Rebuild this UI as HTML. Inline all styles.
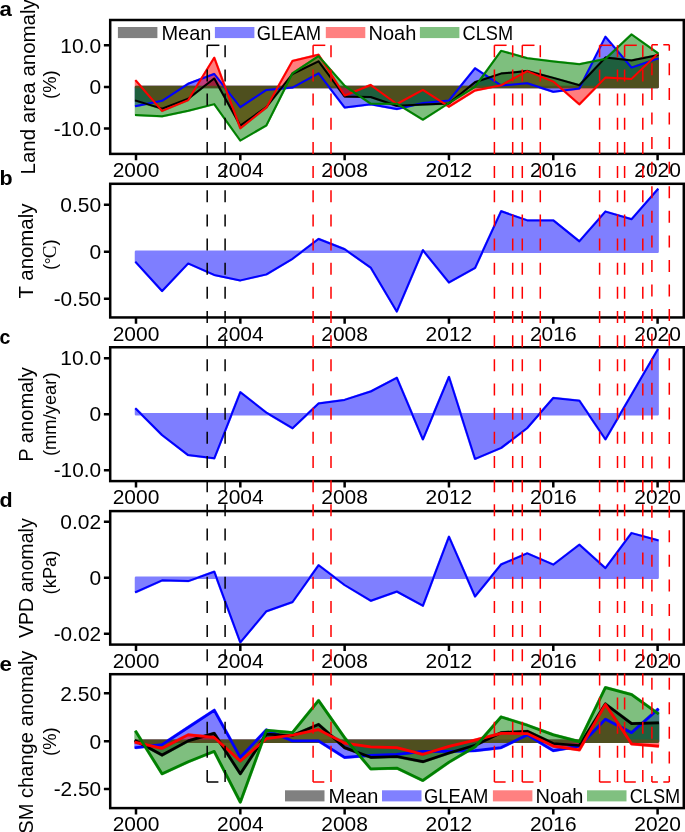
<!DOCTYPE html>
<html lang="en">
<head>
<meta charset="utf-8">
<title>Anomaly time series 2000-2020</title>
<style>
html,body{margin:0;padding:0;background:#fff;}
body{width:685px;height:832px;overflow:hidden;font-family:"Liberation Sans",sans-serif;}
svg{display:block;will-change:transform;}
</style>
</head>
<body>
<svg width="685" height="832" viewBox="0 0 685 832" font-family="'Liberation Sans', sans-serif" font-size="19.35" fill="#000">
<rect width="685" height="832" fill="#fff"/>
<defs>
<clipPath id="clipa"><rect x="110.2" y="20.0" width="573.60" height="133.90"/></clipPath>
<clipPath id="clipb"><rect x="110.2" y="183.8" width="573.60" height="133.65"/></clipPath>
<clipPath id="clipc"><rect x="110.2" y="347.25" width="573.60" height="133.85"/></clipPath>
<clipPath id="clipd"><rect x="110.2" y="511.1" width="573.60" height="133.50"/></clipPath>
<clipPath id="clipe"><rect x="110.2" y="674.2" width="573.60" height="133.90"/></clipPath>
</defs>
<g id="panel-a">
<g clip-path="url(#clipa)">
<path d="M136.00,86.95 L136.00,106.00 L162.08,100.80 L188.16,83.80 L214.24,74.00 L240.32,107.10 L266.40,89.90 L292.48,87.60 L318.56,73.30 L344.64,107.40 L370.72,104.20 L396.80,109.00 L422.88,103.10 L448.96,100.50 L475.04,68.30 L501.12,85.50 L527.20,83.20 L553.28,91.80 L579.36,88.50 L605.44,36.90 L631.52,67.60 L657.60,58.70 L657.60,86.95 Z" fill="#0000ff" stroke="#0000ff" stroke-width="2.5" stroke-linejoin="round" opacity="0.5"/>
<path d="M136.00,86.95 L136.00,100.70 L162.08,108.60 L188.16,98.80 L214.24,78.50 L240.32,125.60 L266.40,107.00 L292.48,74.00 L318.56,61.40 L344.64,96.50 L370.72,97.00 L396.80,105.70 L422.88,104.40 L448.96,103.40 L475.04,82.20 L501.12,73.60 L527.20,71.00 L553.28,77.90 L579.36,85.20 L605.44,57.60 L631.52,60.40 L657.60,55.10 L657.60,86.95 Z" fill="#000000" stroke="#000000" stroke-width="2.5" stroke-linejoin="round" opacity="0.5"/>
<path d="M136.00,86.95 L136.00,80.90 L162.08,110.90 L188.16,100.10 L214.24,57.80 L240.32,128.20 L266.40,107.40 L292.48,61.00 L318.56,54.80 L344.64,95.50 L370.72,85.00 L396.80,104.00 L422.88,89.90 L448.96,106.70 L475.04,90.40 L501.12,85.30 L527.20,71.10 L553.28,81.60 L579.36,104.30 L605.44,77.60 L631.52,78.90 L657.60,53.80 L657.60,86.95 Z" fill="#ff0000" stroke="#ff0000" stroke-width="2.5" stroke-linejoin="round" opacity="0.5"/>
<path d="M136.00,86.95 L136.00,115.00 L162.08,116.20 L188.16,110.70 L214.24,104.10 L240.32,140.50 L266.40,125.30 L292.48,73.30 L318.56,56.20 L344.64,85.90 L370.72,103.70 L396.80,103.70 L422.88,119.60 L448.96,103.00 L475.04,86.80 L501.12,50.90 L527.20,58.20 L553.28,61.40 L579.36,64.30 L605.44,59.00 L631.52,34.50 L657.60,53.00 L657.60,86.95 Z" fill="#008000" stroke="#008000" stroke-width="2.5" stroke-linejoin="round" opacity="0.5"/>
<polyline points="136.00,106.00 162.08,100.80 188.16,83.80 214.24,74.00 240.32,107.10 266.40,89.90 292.48,87.60 318.56,73.30 344.64,107.40 370.72,104.20 396.80,109.00 422.88,103.10 448.96,100.50 475.04,68.30 501.12,85.50 527.20,83.20 553.28,91.80 579.36,88.50 605.44,36.90 631.52,67.60 657.60,58.70" fill="none" stroke="#0000ff" stroke-width="2.0" stroke-linejoin="round" stroke-linecap="square"/>
<polyline points="136.00,100.70 162.08,108.60 188.16,98.80 214.24,78.50 240.32,125.60 266.40,107.00 292.48,74.00 318.56,61.40 344.64,96.50 370.72,97.00 396.80,105.70 422.88,104.40 448.96,103.40 475.04,82.20 501.12,73.60 527.20,71.00 553.28,77.90 579.36,85.20 605.44,57.60 631.52,60.40 657.60,55.10" fill="none" stroke="#000000" stroke-width="2.0" stroke-linejoin="round" stroke-linecap="square"/>
<polyline points="136.00,80.90 162.08,110.90 188.16,100.10 214.24,57.80 240.32,128.20 266.40,107.40 292.48,61.00 318.56,54.80 344.64,95.50 370.72,85.00 396.80,104.00 422.88,89.90 448.96,106.70 475.04,90.40 501.12,85.30 527.20,71.10 553.28,81.60 579.36,104.30 605.44,77.60 631.52,78.90 657.60,53.80" fill="none" stroke="#ff0000" stroke-width="2.0" stroke-linejoin="round" stroke-linecap="square"/>
<polyline points="136.00,115.00 162.08,116.20 188.16,110.70 214.24,104.10 240.32,140.50 266.40,125.30 292.48,73.30 318.56,56.20 344.64,85.90 370.72,103.70 396.80,103.70 422.88,119.60 448.96,103.00 475.04,86.80 501.12,50.90 527.20,58.20 553.28,61.40 579.36,64.30 605.44,59.00 631.52,34.50 657.60,53.00" fill="none" stroke="#008000" stroke-width="2.0" stroke-linejoin="round" stroke-linecap="square"/>
</g>
<rect x="110.2" y="20.0" width="573.60" height="133.90" fill="none" stroke="#000" stroke-width="2.5"/>
<path d="M136.00,153.90v6.3M240.32,153.90v6.3M344.64,153.90v6.3M448.96,153.90v6.3M553.28,153.90v6.3M657.60,153.90v6.3M110.20,45.30h-6.3M110.20,86.95h-6.3M110.20,128.60h-6.3" stroke="#000" stroke-width="2.5" fill="none"/>
<text x="136.00" y="177.10" text-anchor="middle" textLength="46.66" lengthAdjust="spacingAndGlyphs">2000</text>
<text x="240.32" y="177.10" text-anchor="middle" textLength="46.66" lengthAdjust="spacingAndGlyphs">2004</text>
<text x="344.64" y="177.10" text-anchor="middle" textLength="46.66" lengthAdjust="spacingAndGlyphs">2008</text>
<text x="448.96" y="177.10" text-anchor="middle" textLength="46.66" lengthAdjust="spacingAndGlyphs">2012</text>
<text x="553.28" y="177.10" text-anchor="middle" textLength="46.66" lengthAdjust="spacingAndGlyphs">2016</text>
<text x="657.60" y="177.10" text-anchor="middle" textLength="46.66" lengthAdjust="spacingAndGlyphs">2020</text>
<text x="101.10" y="52.55" text-anchor="end" textLength="40.82" lengthAdjust="spacingAndGlyphs">10.0</text>
<text x="101.10" y="94.20" text-anchor="end" textLength="11.66" lengthAdjust="spacingAndGlyphs">0</text>
<text x="101.10" y="135.85" text-anchor="end" textLength="47.43" lengthAdjust="spacingAndGlyphs">-10.0</text>
<text transform="translate(35.20,86.85) rotate(-90)" text-anchor="middle" textLength="175.15" lengthAdjust="spacingAndGlyphs">Land area anomaly</text>
<text transform="translate(56.40,84.70) rotate(-90)" text-anchor="middle" font-size="18.33">(%)</text>
<text x="-0.40" y="16.00" text-anchor="start" textLength="12.37" lengthAdjust="spacingAndGlyphs" font-weight="bold">a</text>
</g>
<g id="panel-b">
<g clip-path="url(#clipb)">
<path d="M136.00,251.80 L136.00,262.30 L162.08,291.00 L188.16,263.40 L214.24,274.90 L240.32,280.40 L266.40,274.40 L292.48,258.80 L318.56,239.00 L344.64,249.20 L370.72,267.60 L396.80,311.40 L422.88,250.20 L448.96,282.40 L475.04,267.90 L501.12,211.30 L527.20,220.40 L553.28,220.40 L579.36,241.40 L605.44,211.60 L631.52,219.30 L657.60,189.50 L657.60,251.80 Z" fill="#0000ff" stroke="#0000ff" stroke-width="2.5" stroke-linejoin="round" opacity="0.5"/>
<polyline points="136.00,262.30 162.08,291.00 188.16,263.40 214.24,274.90 240.32,280.40 266.40,274.40 292.48,258.80 318.56,239.00 344.64,249.20 370.72,267.60 396.80,311.40 422.88,250.20 448.96,282.40 475.04,267.90 501.12,211.30 527.20,220.40 553.28,220.40 579.36,241.40 605.44,211.60 631.52,219.30 657.60,189.50" fill="none" stroke="#0000ff" stroke-width="2.0" stroke-linejoin="round" stroke-linecap="square"/>
</g>
<rect x="110.2" y="183.8" width="573.60" height="133.65" fill="none" stroke="#000" stroke-width="2.5"/>
<path d="M136.00,317.45v6.3M240.32,317.45v6.3M344.64,317.45v6.3M448.96,317.45v6.3M553.28,317.45v6.3M657.60,317.45v6.3M110.20,204.80h-6.3M110.20,251.80h-6.3M110.20,298.80h-6.3" stroke="#000" stroke-width="2.5" fill="none"/>
<text x="136.00" y="340.65" text-anchor="middle" textLength="46.66" lengthAdjust="spacingAndGlyphs">2000</text>
<text x="240.32" y="340.65" text-anchor="middle" textLength="46.66" lengthAdjust="spacingAndGlyphs">2004</text>
<text x="344.64" y="340.65" text-anchor="middle" textLength="46.66" lengthAdjust="spacingAndGlyphs">2008</text>
<text x="448.96" y="340.65" text-anchor="middle" textLength="46.66" lengthAdjust="spacingAndGlyphs">2012</text>
<text x="553.28" y="340.65" text-anchor="middle" textLength="46.66" lengthAdjust="spacingAndGlyphs">2016</text>
<text x="657.60" y="340.65" text-anchor="middle" textLength="46.66" lengthAdjust="spacingAndGlyphs">2020</text>
<text x="101.10" y="212.05" text-anchor="end" textLength="40.82" lengthAdjust="spacingAndGlyphs">0.50</text>
<text x="101.10" y="259.05" text-anchor="end" textLength="11.66" lengthAdjust="spacingAndGlyphs">0</text>
<text x="101.10" y="306.05" text-anchor="end" textLength="47.43" lengthAdjust="spacingAndGlyphs">-0.50</text>
<text transform="translate(33.30,251.02) rotate(-90)" text-anchor="middle" textLength="94.73" lengthAdjust="spacingAndGlyphs">T anomaly</text>
<text transform="translate(56.40,254.75) rotate(-90)" text-anchor="middle" font-size="18.33">(<tspan font-family="'Liberation Serif', serif" font-size="16">°</tspan><tspan font-family="'Liberation Serif', serif" font-size="19" dx="-0.8">C</tspan>)</text>
<text x="-0.40" y="184.80" text-anchor="start" textLength="13.12" lengthAdjust="spacingAndGlyphs" font-weight="bold">b</text>
</g>
<g id="panel-c">
<g clip-path="url(#clipc)">
<path d="M136.00,414.20 L136.00,408.90 L162.08,435.00 L188.16,455.10 L214.24,458.30 L240.32,392.30 L266.40,412.70 L292.48,428.20 L318.56,403.60 L344.64,399.90 L370.72,391.50 L396.80,377.80 L422.88,439.30 L448.96,377.00 L475.04,458.80 L501.12,447.90 L527.20,428.00 L553.28,398.00 L579.36,400.80 L605.44,439.30 L631.52,394.70 L657.60,349.90 L657.60,414.20 Z" fill="#0000ff" stroke="#0000ff" stroke-width="2.5" stroke-linejoin="round" opacity="0.5"/>
<polyline points="136.00,408.90 162.08,435.00 188.16,455.10 214.24,458.30 240.32,392.30 266.40,412.70 292.48,428.20 318.56,403.60 344.64,399.90 370.72,391.50 396.80,377.80 422.88,439.30 448.96,377.00 475.04,458.80 501.12,447.90 527.20,428.00 553.28,398.00 579.36,400.80 605.44,439.30 631.52,394.70 657.60,349.90" fill="none" stroke="#0000ff" stroke-width="2.0" stroke-linejoin="round" stroke-linecap="square"/>
</g>
<rect x="110.2" y="347.25" width="573.60" height="133.85" fill="none" stroke="#000" stroke-width="2.5"/>
<path d="M136.00,481.10v6.3M240.32,481.10v6.3M344.64,481.10v6.3M448.96,481.10v6.3M553.28,481.10v6.3M657.60,481.10v6.3M110.20,358.15h-6.3M110.20,414.15h-6.3M110.20,470.15h-6.3" stroke="#000" stroke-width="2.5" fill="none"/>
<text x="136.00" y="504.30" text-anchor="middle" textLength="46.66" lengthAdjust="spacingAndGlyphs">2000</text>
<text x="240.32" y="504.30" text-anchor="middle" textLength="46.66" lengthAdjust="spacingAndGlyphs">2004</text>
<text x="344.64" y="504.30" text-anchor="middle" textLength="46.66" lengthAdjust="spacingAndGlyphs">2008</text>
<text x="448.96" y="504.30" text-anchor="middle" textLength="46.66" lengthAdjust="spacingAndGlyphs">2012</text>
<text x="553.28" y="504.30" text-anchor="middle" textLength="46.66" lengthAdjust="spacingAndGlyphs">2016</text>
<text x="657.60" y="504.30" text-anchor="middle" textLength="46.66" lengthAdjust="spacingAndGlyphs">2020</text>
<text x="101.10" y="365.40" text-anchor="end" textLength="40.82" lengthAdjust="spacingAndGlyphs">10.0</text>
<text x="101.10" y="421.40" text-anchor="end" textLength="11.66" lengthAdjust="spacingAndGlyphs">0</text>
<text x="101.10" y="477.40" text-anchor="end" textLength="47.43" lengthAdjust="spacingAndGlyphs">-10.0</text>
<text transform="translate(33.30,414.48) rotate(-90)" text-anchor="middle" textLength="94.59" lengthAdjust="spacingAndGlyphs">P anomaly</text>
<text transform="translate(56.40,414.25) rotate(-90)" text-anchor="middle" font-size="18.33">(mm/year)</text>
<text x="-0.40" y="343.80" text-anchor="start" textLength="10.87" lengthAdjust="spacingAndGlyphs" font-weight="bold">c</text>
</g>
<g id="panel-d">
<g clip-path="url(#clipd)">
<path d="M136.00,577.70 L136.00,592.00 L162.08,580.30 L188.16,581.10 L214.24,571.70 L240.32,642.30 L266.40,611.20 L292.48,602.00 L318.56,565.30 L344.64,585.00 L370.72,600.70 L396.80,591.50 L422.88,605.70 L448.96,536.80 L475.04,596.40 L501.12,564.50 L527.20,553.40 L553.28,564.70 L579.36,544.80 L605.44,568.20 L631.52,533.10 L657.60,540.30 L657.60,577.70 Z" fill="#0000ff" stroke="#0000ff" stroke-width="2.5" stroke-linejoin="round" opacity="0.5"/>
<polyline points="136.00,592.00 162.08,580.30 188.16,581.10 214.24,571.70 240.32,642.30 266.40,611.20 292.48,602.00 318.56,565.30 344.64,585.00 370.72,600.70 396.80,591.50 422.88,605.70 448.96,536.80 475.04,596.40 501.12,564.50 527.20,553.40 553.28,564.70 579.36,544.80 605.44,568.20 631.52,533.10 657.60,540.30" fill="none" stroke="#0000ff" stroke-width="2.0" stroke-linejoin="round" stroke-linecap="square"/>
</g>
<rect x="110.2" y="511.1" width="573.60" height="133.50" fill="none" stroke="#000" stroke-width="2.5"/>
<path d="M136.00,644.60v6.3M240.32,644.60v6.3M344.64,644.60v6.3M448.96,644.60v6.3M553.28,644.60v6.3M657.60,644.60v6.3M110.20,521.75h-6.3M110.20,577.75h-6.3M110.20,633.75h-6.3" stroke="#000" stroke-width="2.5" fill="none"/>
<text x="136.00" y="667.80" text-anchor="middle" textLength="46.66" lengthAdjust="spacingAndGlyphs">2000</text>
<text x="240.32" y="667.80" text-anchor="middle" textLength="46.66" lengthAdjust="spacingAndGlyphs">2004</text>
<text x="344.64" y="667.80" text-anchor="middle" textLength="46.66" lengthAdjust="spacingAndGlyphs">2008</text>
<text x="448.96" y="667.80" text-anchor="middle" textLength="46.66" lengthAdjust="spacingAndGlyphs">2012</text>
<text x="553.28" y="667.80" text-anchor="middle" textLength="46.66" lengthAdjust="spacingAndGlyphs">2016</text>
<text x="657.60" y="667.80" text-anchor="middle" textLength="46.66" lengthAdjust="spacingAndGlyphs">2020</text>
<text x="101.10" y="529.00" text-anchor="end" textLength="40.82" lengthAdjust="spacingAndGlyphs">0.02</text>
<text x="101.10" y="585.00" text-anchor="end" textLength="11.66" lengthAdjust="spacingAndGlyphs">0</text>
<text x="101.10" y="641.00" text-anchor="end" textLength="47.43" lengthAdjust="spacingAndGlyphs">-0.02</text>
<text transform="translate(33.40,578.20) rotate(-90)" text-anchor="middle" textLength="119.75" lengthAdjust="spacingAndGlyphs">VPD anomaly</text>
<text transform="translate(56.40,572.50) rotate(-90)" text-anchor="middle" font-size="18.33">(kPa)</text>
<text x="-0.40" y="506.80" text-anchor="start" textLength="13.12" lengthAdjust="spacingAndGlyphs" font-weight="bold">d</text>
</g>
<g id="panel-e">
<g clip-path="url(#clipe)">
<path d="M136.00,741.25 L136.00,747.60 L162.08,744.60 L188.16,727.50 L214.24,710.30 L240.32,757.30 L266.40,730.00 L292.48,740.90 L318.56,740.90 L344.64,757.30 L370.72,755.40 L396.80,754.30 L422.88,751.30 L448.96,751.30 L475.04,750.60 L501.12,747.60 L527.20,734.90 L553.28,750.60 L579.36,746.10 L605.44,719.30 L631.52,732.70 L657.60,709.60 L657.60,741.25 Z" fill="#0000ff" stroke="#0000ff" stroke-width="3.33" stroke-linejoin="round" opacity="0.5"/>
<path d="M136.00,741.25 L136.00,740.90 L162.08,755.00 L188.16,740.90 L214.24,733.40 L240.32,773.70 L266.40,734.20 L292.48,735.60 L318.56,724.50 L344.64,747.60 L370.72,757.30 L396.80,756.50 L422.88,761.70 L448.96,753.00 L475.04,745.30 L501.12,732.70 L527.20,731.30 L553.28,743.50 L579.36,745.50 L605.44,704.00 L631.52,723.70 L657.60,723.00 L657.60,741.25 Z" fill="#000000" stroke="#000000" stroke-width="3.33" stroke-linejoin="round" opacity="0.5"/>
<path d="M136.00,741.25 L136.00,742.40 L162.08,748.30 L188.16,734.90 L214.24,737.40 L240.32,761.00 L266.40,738.60 L292.48,735.20 L318.56,729.70 L344.64,743.10 L370.72,746.80 L396.80,747.60 L422.88,754.30 L448.96,746.40 L475.04,740.10 L501.12,733.40 L527.20,733.60 L553.28,746.10 L579.36,749.80 L605.44,704.40 L631.52,743.80 L657.60,746.10 L657.60,741.25 Z" fill="#ff0000" stroke="#ff0000" stroke-width="3.33" stroke-linejoin="round" opacity="0.5"/>
<path d="M136.00,741.25 L136.00,731.90 L162.08,773.70 L188.16,761.70 L214.24,751.30 L240.32,802.00 L266.40,730.40 L292.48,732.70 L318.56,700.60 L344.64,737.90 L370.72,768.80 L396.80,768.10 L422.88,780.40 L448.96,762.10 L475.04,746.80 L501.12,717.00 L527.20,725.20 L553.28,734.90 L579.36,741.60 L605.44,687.70 L631.52,694.70 L657.60,713.30 L657.60,741.25 Z" fill="#008000" stroke="#008000" stroke-width="3.33" stroke-linejoin="round" opacity="0.5"/>
<polyline points="136.00,747.60 162.08,744.60 188.16,727.50 214.24,710.30 240.32,757.30 266.40,730.00 292.48,740.90 318.56,740.90 344.64,757.30 370.72,755.40 396.80,754.30 422.88,751.30 448.96,751.30 475.04,750.60 501.12,747.60 527.20,734.90 553.28,750.60 579.36,746.10 605.44,719.30 631.52,732.70 657.60,709.60" fill="none" stroke="#0000ff" stroke-width="2.75" stroke-linejoin="round" stroke-linecap="square"/>
<polyline points="136.00,740.90 162.08,755.00 188.16,740.90 214.24,733.40 240.32,773.70 266.40,734.20 292.48,735.60 318.56,724.50 344.64,747.60 370.72,757.30 396.80,756.50 422.88,761.70 448.96,753.00 475.04,745.30 501.12,732.70 527.20,731.30 553.28,743.50 579.36,745.50 605.44,704.00 631.52,723.70 657.60,723.00" fill="none" stroke="#000000" stroke-width="2.75" stroke-linejoin="round" stroke-linecap="square"/>
<polyline points="136.00,742.40 162.08,748.30 188.16,734.90 214.24,737.40 240.32,761.00 266.40,738.60 292.48,735.20 318.56,729.70 344.64,743.10 370.72,746.80 396.80,747.60 422.88,754.30 448.96,746.40 475.04,740.10 501.12,733.40 527.20,733.60 553.28,746.10 579.36,749.80 605.44,704.40 631.52,743.80 657.60,746.10" fill="none" stroke="#ff0000" stroke-width="2.75" stroke-linejoin="round" stroke-linecap="square"/>
<polyline points="136.00,731.90 162.08,773.70 188.16,761.70 214.24,751.30 240.32,802.00 266.40,730.40 292.48,732.70 318.56,700.60 344.64,737.90 370.72,768.80 396.80,768.10 422.88,780.40 448.96,762.10 475.04,746.80 501.12,717.00 527.20,725.20 553.28,734.90 579.36,741.60 605.44,687.70 631.52,694.70 657.60,713.30" fill="none" stroke="#008000" stroke-width="2.75" stroke-linejoin="round" stroke-linecap="square"/>
</g>
<rect x="110.2" y="674.2" width="573.60" height="133.90" fill="none" stroke="#000" stroke-width="2.5"/>
<path d="M136.00,808.10v6.3M240.32,808.10v6.3M344.64,808.10v6.3M448.96,808.10v6.3M553.28,808.10v6.3M657.60,808.10v6.3M110.20,693.25h-6.3M110.20,741.25h-6.3M110.20,789.10h-6.3" stroke="#000" stroke-width="2.5" fill="none"/>
<text x="136.00" y="831.30" text-anchor="middle" textLength="46.66" lengthAdjust="spacingAndGlyphs">2000</text>
<text x="240.32" y="831.30" text-anchor="middle" textLength="46.66" lengthAdjust="spacingAndGlyphs">2004</text>
<text x="344.64" y="831.30" text-anchor="middle" textLength="46.66" lengthAdjust="spacingAndGlyphs">2008</text>
<text x="448.96" y="831.30" text-anchor="middle" textLength="46.66" lengthAdjust="spacingAndGlyphs">2012</text>
<text x="553.28" y="831.30" text-anchor="middle" textLength="46.66" lengthAdjust="spacingAndGlyphs">2016</text>
<text x="657.60" y="831.30" text-anchor="middle" textLength="46.66" lengthAdjust="spacingAndGlyphs">2020</text>
<text x="101.10" y="700.50" text-anchor="end" textLength="40.82" lengthAdjust="spacingAndGlyphs">2.50</text>
<text x="101.10" y="748.50" text-anchor="end" textLength="11.66" lengthAdjust="spacingAndGlyphs">0</text>
<text x="101.10" y="796.35" text-anchor="end" textLength="47.43" lengthAdjust="spacingAndGlyphs">-2.50</text>
<text transform="translate(33.30,742.15) rotate(-90)" text-anchor="middle" textLength="183.08" lengthAdjust="spacingAndGlyphs">SM change anomaly</text>
<text transform="translate(56.40,741.70) rotate(-90)" text-anchor="middle" font-size="18.33">(%)</text>
<text x="-0.40" y="670.90" text-anchor="start" textLength="12.43" lengthAdjust="spacingAndGlyphs" font-weight="bold">e</text>
</g>
<rect x="117.90" y="27.00" width="39.5" height="11.1" fill="#808080"/>
<text x="161.40" y="39.60" text-anchor="start" textLength="49.95" lengthAdjust="spacingAndGlyphs">Mean</text>
<rect x="214.90" y="27.00" width="39.5" height="11.1" fill="#8080ff"/>
<text x="256.80" y="39.60" text-anchor="start" textLength="64.36" lengthAdjust="spacingAndGlyphs">GLEAM</text>
<rect x="325.80" y="27.00" width="39.5" height="11.1" fill="#ff8080"/>
<text x="368.50" y="39.60" text-anchor="start" textLength="47.78" lengthAdjust="spacingAndGlyphs">Noah</text>
<rect x="419.90" y="27.00" width="39.5" height="11.1" fill="#80c080"/>
<text x="462.60" y="39.60" text-anchor="start" textLength="50.47" lengthAdjust="spacingAndGlyphs">CLSM</text>
<rect x="285.00" y="790.30" width="39.5" height="11.1" fill="#808080"/>
<text x="328.50" y="802.90" text-anchor="start" textLength="49.95" lengthAdjust="spacingAndGlyphs">Mean</text>
<rect x="382.00" y="790.30" width="39.5" height="11.1" fill="#8080ff"/>
<text x="423.90" y="802.90" text-anchor="start" textLength="64.36" lengthAdjust="spacingAndGlyphs">GLEAM</text>
<rect x="492.90" y="790.30" width="39.5" height="11.1" fill="#ff8080"/>
<text x="535.60" y="802.90" text-anchor="start" textLength="47.78" lengthAdjust="spacingAndGlyphs">Noah</text>
<rect x="587.00" y="790.30" width="39.5" height="11.1" fill="#80c080"/>
<text x="629.70" y="802.90" text-anchor="start" textLength="50.47" lengthAdjust="spacingAndGlyphs">CLSM</text>
<g stroke="#000" stroke-width="1.5" fill="none">
<line x1="207.2" y1="45.3" x2="207.2" y2="782.0" stroke-dasharray="12 12.157"/>
<line x1="225.1" y1="45.3" x2="225.1" y2="782.0" stroke-dasharray="12 12.157"/>
<line x1="207.2" y1="45.3" x2="219.40" y2="45.3"/>
<line x1="207.2" y1="782.0" x2="218.40" y2="782.0"/>
</g>
<g stroke="#ff0000" stroke-width="1.5" fill="none">
<line x1="313.1" y1="45.3" x2="313.1" y2="782.0" stroke-dasharray="12 12.157"/>
<line x1="331.0" y1="45.3" x2="331.0" y2="782.0" stroke-dasharray="12 12.157"/>
<line x1="313.1" y1="45.3" x2="325.30" y2="45.3"/>
<line x1="313.1" y1="782.0" x2="324.30" y2="782.0"/>
</g>
<g stroke="#ff0000" stroke-width="1.5" fill="none">
<line x1="494.4" y1="45.3" x2="494.4" y2="782.0" stroke-dasharray="12 12.157"/>
<line x1="512.7" y1="45.3" x2="512.7" y2="782.0" stroke-dasharray="12 12.157"/>
<line x1="494.4" y1="45.3" x2="506.60" y2="45.3"/>
<line x1="494.4" y1="782.0" x2="505.60" y2="782.0"/>
</g>
<g stroke="#ff0000" stroke-width="1.5" fill="none">
<line x1="522.3" y1="45.3" x2="522.3" y2="782.0" stroke-dasharray="12 12.157"/>
<line x1="540.3" y1="45.3" x2="540.3" y2="782.0" stroke-dasharray="12 12.157"/>
<line x1="522.3" y1="45.3" x2="534.50" y2="45.3"/>
<line x1="522.3" y1="782.0" x2="533.50" y2="782.0"/>
</g>
<g stroke="#ff0000" stroke-width="1.5" fill="none">
<line x1="599.6" y1="45.3" x2="599.6" y2="782.0" stroke-dasharray="12 12.157"/>
<line x1="617.5" y1="45.3" x2="617.5" y2="782.0" stroke-dasharray="12 12.157"/>
<line x1="599.6" y1="45.3" x2="611.80" y2="45.3"/>
<line x1="599.6" y1="782.0" x2="610.80" y2="782.0"/>
</g>
<g stroke="#ff0000" stroke-width="1.5" fill="none">
<line x1="624.6" y1="45.3" x2="624.6" y2="782.0" stroke-dasharray="12 12.157"/>
<line x1="642.8" y1="45.3" x2="642.8" y2="782.0" stroke-dasharray="12 12.157"/>
<line x1="624.6" y1="45.3" x2="636.80" y2="45.3"/>
<line x1="624.6" y1="782.0" x2="635.80" y2="782.0"/>
</g>
<g stroke="#ff0000" stroke-width="1.5" fill="none">
<line x1="651.9" y1="44.8" x2="651.9" y2="782.0" stroke-dasharray="12 12.573" stroke-dashoffset="6"/>
<line x1="669.3" y1="44.8" x2="669.3" y2="782.0" stroke-dasharray="12 12.573" stroke-dashoffset="6"/>
<line x1="651.9" y1="44.8" x2="669.3" y2="44.8" stroke-dasharray="12 5.400" stroke-dashoffset="6"/>
<line x1="651.9" y1="782.0" x2="669.3" y2="782.0" stroke-dasharray="12 5.400" stroke-dashoffset="6"/>
</g>
</svg>
</body>
</html>
